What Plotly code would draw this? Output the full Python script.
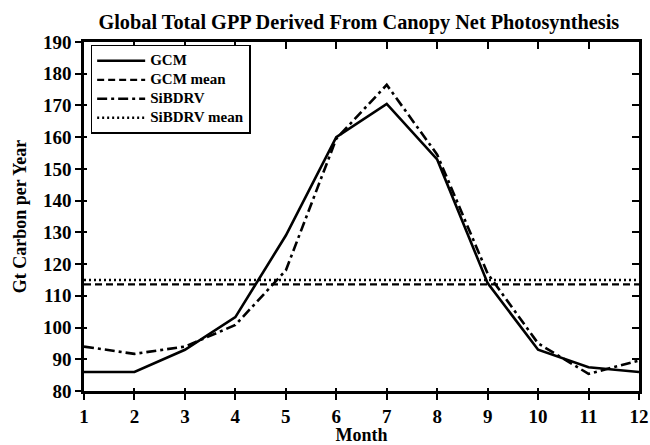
import plotly.graph_objects as go

months = list(range(1, 13))
gcm = [86, 86, 93, 103.3, 129, 160, 170.5, 153, 114, 93, 87.5, 86]
sibdrv = [94, 91.7, 94, 100.8, 118, 159.5, 176.5, 154.5, 117, 95, 85.4, 89.6]
gcm_mean = 113.6
sib_mean = 115.0
series_names = ["GCM", "GCM mean", "SiBDRV", "SiBDRV mean"]

FONT = "Liberation Serif"

def lg(name):
    return "<span style='font-size:15px'>" + name + "</span>"

fig = go.Figure()
fig.add_trace(go.Scatter(x=months, y=gcm, mode="lines", name=lg(series_names[0]),
                         line=dict(color="black", width=2.6)))
fig.add_trace(go.Scatter(x=months, y=[gcm_mean] * len(months), mode="lines",
                         name=lg(series_names[1]),
                         line=dict(color="black", width=2.2, dash="7px,4px")))
fig.add_trace(go.Scatter(x=months, y=sibdrv, mode="lines", name=lg(series_names[2]),
                         line=dict(color="black", width=2.6, dash="10px,4px,3px,4px")))
fig.add_trace(go.Scatter(x=months, y=[sib_mean] * len(months), mode="lines",
                         name=lg(series_names[3]),
                         line=dict(color="black", width=2.4, dash="2px,3px")))

# helper traces for tick overlays
fig.add_trace(go.Scatter(x=[1], y=[80], xaxis="x2", yaxis="y2", mode="markers",
                         marker=dict(opacity=0), showlegend=False, hoverinfo="skip"))
fig.add_trace(go.Scatter(x=[1], y=[80], xaxis="x3", yaxis="y3", mode="markers",
                         marker=dict(opacity=0), showlegend=False, hoverinfo="skip"))

tickfont = dict(family=FONT, size=19, color="black", weight="bold")
titlefont = dict(family=FONT, size=18, color="black", weight="bold")
common_x = dict(range=[1, 12], tickvals=months, showgrid=False, zeroline=False,
                automargin=False, tickcolor="black", tickwidth=2)
common_y = dict(range=[80, 190], tick0=80, dtick=10, showgrid=False, zeroline=False,
                automargin=False, tickcolor="black", tickwidth=2)

fig.update_layout(
    width=650, height=445,
    margin=dict(l=84, r=11, t=42, b=54),
    paper_bgcolor="white", plot_bgcolor="white",
    title=dict(text="Global Total GPP Derived From Canopy Net Photosynthesis",
               x=0.552, xanchor="center", y=0.951, yanchor="middle",
               font=dict(family=FONT, size=20.3, color="black", weight="bold")),
    xaxis=dict(**common_x, ticks="outside", ticklen=6, showline=True,
               linecolor="black", linewidth=2.5, mirror=True, tickfont=tickfont,
               title=dict(text="Month", font=titlefont, standoff=8)),
    yaxis=dict(**common_y, ticks="outside", ticklen=6, showline=True,
               linecolor="black", linewidth=2.5, mirror=True, tickfont=tickfont,
               title=dict(text="Gt Carbon per Year", font=titlefont, standoff=12)),
    xaxis2=dict(**common_x, overlaying="x", side="top", ticks="inside", ticklen=7,
                showticklabels=False),
    yaxis2=dict(**common_y, overlaying="y", side="right", ticks="inside", ticklen=7,
                showticklabels=False),
    xaxis3=dict(**common_x, overlaying="x", side="bottom", ticks="inside", ticklen=3,
                showticklabels=False),
    yaxis3=dict(**common_y, overlaying="y", side="left", ticks="inside", ticklen=3,
                showticklabels=False),
    legend=dict(x=0.012, y=0.992, xanchor="left", yanchor="top",
                bgcolor="white", bordercolor="black", borderwidth=1.5,
                font=dict(family=FONT, size=11, color="black", weight="bold"),
                tracegroupgap=0, itemwidth=48),
    showlegend=True,
)

# remove the page's default 8px body margin so the figure fills the 650x445 window
fig.write_html("out.html",
               config={"displayModeBar": False},
               post_script="document.body.style.margin='0';"
                           "document.body.style.overflow='hidden';")
